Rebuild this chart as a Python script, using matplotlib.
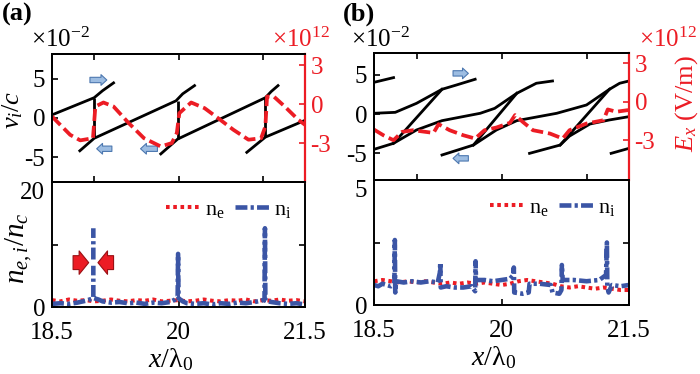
import matplotlib
matplotlib.use('Agg')
import matplotlib.pyplot as plt
import numpy as np
from matplotlib.lines import Line2D

plt.rcParams.update({
    'font.family': ['Liberation Serif', 'DejaVu Serif'],
    'mathtext.fontset': 'custom',
    'mathtext.rm': 'Liberation Serif',
    'mathtext.it': 'Liberation Serif:italic',
    'mathtext.bf': 'Liberation Serif:bold',
    'axes.linewidth': 1.4,
})

RED = '#ec1c24'
BLUE = '#3b55a5'

# ---------------- Panel (a) top: ion phase space (v_i/c, x1e-2) ----------------
a_s1_x = [18.50, 19.00, 19.10, 19.23]
a_s1_y = [0.4, 2.6, 3.5, 4.5]
a_s2_x = [18.83, 19.00, 19.97, 20.05, 20.19]
a_s2_y = [-4.2, -2.6, 2.2, 3.1, 4.15]
a_s3_x = [19.79, 19.99, 21.03, 21.10, 21.18]
a_s3_y = [-4.6, -2.7, 2.6, 3.4, 4.15]
a_s4_x = [20.81, 21.03, 21.50]
a_s4_y = [-4.4, -2.45, -0.3]
a_jump_x = [19.00, 19.99, 21.03]
a_jump_top = [2.6, 2.2, 2.6]
a_jump_bot = [-2.6, -2.7, -2.45]

# E_x (x1e12 V/m)
a_E_x = [18.50, 18.715, 18.835, 18.986, 19.014, 19.11, 19.23, 19.41, 19.59, 19.79,
         19.92, 19.98, 20.01, 20.15, 20.31, 20.47, 20.65, 20.83, 20.98, 21.03,
         21.05, 21.13, 21.26, 21.42, 21.50]
a_E_y = [-0.95, -2.36, -2.79, -2.62, -0.18, 0.13, -0.18, -1.46, -2.62, -3.26,
         -3.0, -2.23, -0.69, 0.13, -0.31, -1.08, -1.97, -2.74, -2.62, -1.72,
         0.59, 0.59, -0.18, -1.2, -1.59]

# ---------------- Panel (b) top ----------------
b_s1_x = [18.50, 18.73]
b_s1_y = [4.06, 4.66]
b_s2_x = [18.50, 18.75, 19.00, 19.30, 19.47, 19.69]
b_s2_y = [0.11, 0.23, 1.38, 3.17, 3.72, 4.45]
b_s3_x = [18.50, 18.73, 19.30]
b_s3_y = [-4.49, -3.72, 3.17]
b_s4_x = [18.73, 19.00, 19.30, 19.75, 19.92, 20.18, 20.41, 20.60]
b_s4_y = [-3.72, -2.02, -0.83, 0.11, 0.74, 2.66, 3.94, 4.23]
b_s5_x = [19.30, 19.67, 20.18]
b_s5_y = [-5.21, -3.94, 2.66]
b_s6_x = [19.67, 19.94, 20.18, 20.65, 21.00, 21.27, 21.39, 21.50]
b_s6_y = [-3.94, -2.02, -0.83, 0.11, 1.17, 3.17, 3.94, 4.23]
b_s7_x = [20.33, 20.69, 21.27]
b_s7_y = [-5.0, -3.94, 3.17]
b_s8_x = [20.69, 20.80, 21.04, 21.27, 21.50]
b_s8_y = [-3.94, -2.8, -1.26, -0.74, -0.32]
b_s9_x = [21.29, 21.50]
b_s9_y = [-5.0, -4.36]

b_E_x = [18.50, 18.61, 18.73, 18.83, 18.96, 19.20, 19.26, 19.39, 19.55, 19.69,
         19.80, 19.94, 20.10, 20.16, 20.25, 20.37, 20.57, 20.72, 20.80, 21.00,
         21.20, 21.25, 21.35, 21.49]
b_E_y = [-2.17, -2.61, -3.0, -2.35, -2.22, -2.43, -1.75, -2.22, -2.61, -2.87,
         -2.22, -2.01, -1.64, -1.04, -1.57, -2.22, -2.48, -2.87, -2.22, -1.7,
         -1.44, -0.6, -0.78, -0.65]

# ---------------- Panel (a) bottom: densities ----------------
ne_a_x = [18.5, 18.6, 18.7, 18.8, 18.9, 19.0, 19.1, 19.2, 19.3, 19.4, 19.5, 19.6,
          19.7, 19.8, 19.9, 20.0, 20.1, 20.2, 20.3, 20.4, 20.5, 20.6, 20.7, 20.8,
          20.9, 21.0, 21.1, 21.2, 21.3, 21.4, 21.5]
ne_a_y = [1.1, 0.9, 1.2, 1.0, 1.1, 0.9, 1.0, 1.2, 1.0, 0.9, 1.1, 1.0, 1.2, 0.9, 1.0,
          1.1, 0.9, 1.0, 1.2, 1.0, 0.9, 1.1, 1.0, 1.2, 0.9, 1.1, 1.0, 1.2, 1.0, 1.1, 0.9]
ni_a_x = [18.50, 18.60, 18.70, 18.80, 18.90, 18.97, 18.99, 18.99, np.nan, 18.99, 18.99,
          np.nan, 19.00, 19.05, 19.10, 19.20, 19.30, 19.40, 19.50, 19.60, 19.70, 19.80,
          19.90, 19.96, 19.99, 19.995, 20.00, 20.05, 20.10, 20.20, 20.30, 20.40, 20.50,
          20.60, 20.70, 20.80, 20.90, 20.98, 21.02, 21.025, 21.03, 21.10, 21.20, 21.30,
          21.40, 21.50]
ni_a_y = [0.5, 0.6, 0.5, 0.7, 1.0, 1.3, 1.5, 6.6, np.nan, 7.6, 12.6,
          np.nan, 1.4, 1.2, 0.9, 0.7, 0.8, 0.6, 0.7, 0.5, 0.7, 0.6,
          0.8, 1.2, 1.6, 8.5, 1.4, 0.9, 0.6, 0.5, 0.6, 0.4, 0.6,
          0.5, 0.7, 0.6, 0.8, 1.0, 1.2, 12.6, 1.0, 0.8, 0.6, 0.5,
          0.6, 0.4]

# ---------------- Panel (b) bottom ----------------
ne_b_x = ne_a_x
ne_b_y = [0.95, 1.0, 0.95, 0.9, 0.95, 0.9, 0.95, 0.9, 0.85, 0.9, 0.85, 0.9, 0.85, 0.9,
          0.85, 0.8, 0.85, 0.95, 1.0, 0.95, 0.9, 0.85, 0.75, 0.7, 0.75, 0.7, 0.65, 0.7,
          0.65, 0.6, 0.6]
ni_b_x = [18.50, 18.55, 18.60, 18.65, 18.70, 18.74, 18.745, 18.75, 18.76, 18.85, 18.95,
          19.05, 19.15, 19.25, 19.275, 19.28, 19.285, 19.35, 19.45, 19.55, 19.65, 19.69,
          19.695, 19.70, 19.80, 19.90, 20.00, 20.10, 20.14, 20.145, 20.15, 20.25, 20.32,
          20.33, 20.45, 20.58, 20.60, 20.68, 20.705, 20.71, 20.72, 20.85, 21.00, 21.15,
          21.23, 21.24, 21.245, 21.26, 21.30, 21.40, 21.50]
ni_b_y = [0.8, 0.75, 0.85, 0.8, 0.75, 0.85, 2.6, 0.5, 0.95, 0.9, 0.95,
          0.9, 0.95, 0.9, 1.3, 1.7, 0.7, 0.75, 0.7, 0.7, 0.75, 0.55,
          1.75, 1.0, 1.0, 0.95, 1.0, 1.05, 1.2, 1.5, 0.5, 0.45, 0.5,
          0.85, 0.85, 0.8, 0.5, 0.45, 0.6, 1.6, 1.0, 1.0, 0.95, 1.0,
          1.2, 2.5, 0.75, 0.5, 0.8, 0.75, 0.8]

# annotation arrows (tail x, head x, y)
a_right_arrows = [(18.95, 19.15, 4.87)]
a_left_arrows = [(19.21, 19.03, -3.94), (19.75, 19.55, -3.94)]
b_right_arrows = [(19.43, 19.61, 5.2)]
b_left_arrows = [(19.61, 19.43, -5.64)]
a_red_arrows = [(18.75, 18.935, 7.1), (19.23, 19.045, 7.1)]

fig = plt.figure(figsize=(7.0, 3.74), dpi=100)

def px(l, t, r, b):
    return [l / 700, (374 - b) / 374, (r - l) / 700, (b - t) / 374]

ax_at = fig.add_axes(px(52, 54, 305, 182))
ax_ab = fig.add_axes(px(52, 182, 305, 307))
ax_bt = fig.add_axes(px(374, 53, 629, 180))
ax_bb = fig.add_axes(px(374, 180, 629, 305))

TICK_FS = 18
BLACK_LW = 2.0
E_STYLE = dict(color=RED, lw=2.7, linestyle=(0, (3.2, 1.3)))
NE_STYLE = dict(color=RED, lw=2.9, linestyle=(0, (0.9, 0.9)))
NI_STYLE = dict(color=BLUE, lw=3.3, linestyle=(0, (2.6, 0.7, 0.7, 0.7)))


def blue_arrow(ax, x0, x1, y):
    ax.annotate('', xy=(x1, y), xytext=(x0, y),
                arrowprops=dict(arrowstyle='simple,head_length=0.6,head_width=1.1,tail_width=0.55',
                                fc='#9dbde2', ec='#4d78b0', lw=0.8, mutation_scale=7,
                                shrinkA=0, shrinkB=0))


def style_top(ax, ylim, ylim2, E_x, E_y):
    ax.set_xlim(18.5, 21.5)
    ax.set_ylim(*ylim)
    ax.set_xticks([19, 20, 21])
    ax.set_yticks([-5, 0, 5])
    ax.set_yticklabels(['-5', '0', '5'])
    ax.tick_params(axis='x', direction='in', top=True, bottom=True, labelbottom=False,
                   length=4, width=1.2)
    ax.tick_params(axis='y', direction='in', left=True, right=False, length=4, width=1.2,
                   labelsize=TICK_FS, pad=5)
    ax.spines['right'].set_visible(False)
    ax2 = ax.twinx()
    ax2.set_ylim(*ylim2)
    ax2.set_yticks([-3, 0, 3])
    ax2.set_yticklabels(['-3', '0', '3'])
    ax2.tick_params(axis='y', direction='in', colors=RED, length=4, width=1.2,
                    labelsize=TICK_FS, pad=4)
    ax2.spines['right'].set_color(RED)
    ax2.spines['right'].set_linewidth(1.6)
    ax2.plot(E_x, E_y, **E_STYLE)
    return ax2


def style_bottom(ax, ymax, ymid):
    ax.set_xlim(18.5, 21.5)
    ax.set_ylim(0, ymax)
    ax.set_xticks([18.5, 20, 21.5])
    ax.set_xticklabels(['18.5', '20', '21.5'])
    ax.set_yticks([0, ymid, ymax])
    ax.set_yticklabels(['0', '', f'{ymax:g}'])
    ax.tick_params(direction='in', left=True, right=True, top=False, length=4, width=1.2,
                   labelsize=TICK_FS)
    ax.tick_params(axis='x', pad=11)
    ax.tick_params(axis='y', pad=5)
    ax.get_yticklabels()[-1].set_va('top')
    ax.set_xlabel(r'$x/\mathrm{λ}_0$', fontsize=20)
    ax.xaxis.set_label_coords(0.47, -0.31)
    h1 = Line2D([], [], **NE_STYLE)
    h2 = Line2D([], [], **NI_STYLE)
    ax.legend([h1, h2], [r'$\mathrm{n_e}$', r'$\mathrm{n_i}$'], loc='upper right',
              bbox_to_anchor=(1.0, 0.97), ncol=2, frameon=False, fontsize=16,
              handlelength=1.6, handletextpad=0.15, columnspacing=0.5, borderaxespad=0.2)


# ---- panel a top
for xs, ys in [(a_s1_x, a_s1_y), (a_s2_x, a_s2_y), (a_s3_x, a_s3_y), (a_s4_x, a_s4_y)]:
    ax_at.plot(xs, ys, color='black', lw=BLACK_LW)
ax_at.vlines(a_jump_x, a_jump_bot, a_jump_top, color='black', lw=BLACK_LW)
for x0, x1, y in a_right_arrows + a_left_arrows:
    blue_arrow(ax_at, x0, x1, y)
ax_at2 = style_top(ax_at, (-8.2, 8.2), (-6.0, 3.87), a_E_x, a_E_y)
ax_at.set_ylabel(r'$v_i/c$', fontsize=19)
ax_at.yaxis.set_label_coords(-0.105, 0.56)

# ---- panel b top
for xs, ys in [(b_s1_x, b_s1_y), (b_s2_x, b_s2_y), (b_s3_x, b_s3_y), (b_s4_x, b_s4_y),
               (b_s5_x, b_s5_y), (b_s6_x, b_s6_y), (b_s7_x, b_s7_y), (b_s8_x, b_s8_y),
               (b_s9_x, b_s9_y)]:
    ax_bt.plot(xs, ys, color='black', lw=BLACK_LW)
for x0, x1, y in b_right_arrows + b_left_arrows:
    blue_arrow(ax_bt, x0, x1, y)
ax_bt2 = style_top(ax_bt, (-8.4, 7.8), (-6.1, 3.8), b_E_x, b_E_y)
ax_bt2.set_ylabel(r'$E_x$ (V/m)', color=RED, fontsize=19, rotation=90)
ax_bt2.yaxis.set_label_coords(1.175, 0.6)

# ---- panel a bottom
ax_ab.plot(ne_a_x, ne_a_y, **NE_STYLE)
ax_ab.plot(ni_a_x, ni_a_y, **NI_STYLE)
for x0, x1, y in a_red_arrows:
    ax_ab.annotate('', xy=(x1, y), xytext=(x0, y),
                   arrowprops=dict(arrowstyle='simple,head_length=0.55,head_width=1.35,tail_width=0.8',
                                   fc=RED, ec='#9a1014', lw=0.8, mutation_scale=12.5,
                                   shrinkA=0, shrinkB=0))
style_bottom(ax_ab, 20, 10)
ax_ab.set_ylabel(r'$n_{e,i}/n_c$', fontsize=21)
ax_ab.yaxis.set_label_coords(-0.07, 0.47)

# ---- panel b bottom
ax_bb.plot(ne_b_x, ne_b_y, **NE_STYLE)
ax_bb.plot(ni_b_x, ni_b_y, **NI_STYLE)
style_bottom(ax_bb, 5, 2.5)

# ---- texts
fig.text(2 / 700, 1 - 3 / 374, '(a)', fontsize=19, fontweight='bold', va='top', ha='left')
fig.text(343 / 700, 1 - 3 / 374, '(b)', fontsize=19, fontweight='bold', va='top', ha='left')
fig.text(31 / 700, 1 - 47 / 374, r'$\times10^{-2}$', fontsize=18, va='baseline')
fig.text(351 / 700, 1 - 47 / 374, r'$\times10^{-2}$', fontsize=18, va='baseline')
fig.text(272 / 700, 1 - 47 / 374, r'$\times10^{12}$', fontsize=18, va='baseline', color=RED)
fig.text(639 / 700, 1 - 47 / 374, r'$\times10^{12}$', fontsize=18, va='baseline', color=RED)

fig.savefig('out.png', dpi=100)
